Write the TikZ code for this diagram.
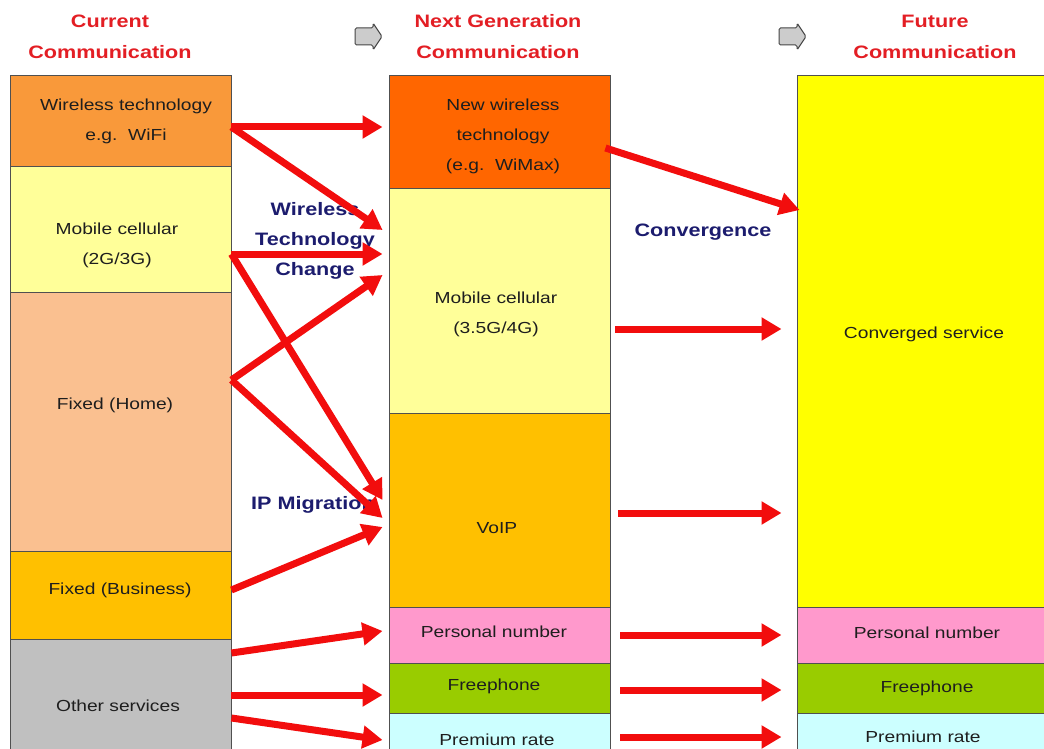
\documentclass[tikz,border=0pt]{standalone}
\usepackage{fontspec}
\setmainfont{Liberation Sans}[FakeStretch=1.2]
\usetikzlibrary{arrows.meta,calc}
\definecolor{cWl}{HTML}{F9993A}
\definecolor{cLy}{HTML}{FFFF99}
\definecolor{cPeach}{HTML}{FAC090}
\definecolor{cGold}{HTML}{FFC000}
\definecolor{cGray}{HTML}{C0C0C0}
\definecolor{cDor}{HTML}{FF6600}
\definecolor{cPink}{HTML}{FF99CC}
\definecolor{cGreen}{HTML}{99CC00}
\definecolor{cCyan}{HTML}{CCFFFF}
\definecolor{cYel}{HTML}{FFFF00}
\definecolor{boxline}{HTML}{505050}
\definecolor{textc}{HTML}{1E1E1E}
\definecolor{hdred}{HTML}{E31E24}
\definecolor{navy}{HTML}{1C1C6E}
\definecolor{arrred}{HTML}{F20D0D}
\begin{document}
\begin{tikzpicture}[x=1pt,y=-1pt,
 box/.style={draw=boxline, line width=0.9pt, inner sep=0pt, minimum width=221pt},
 txt/.style={font=\fontsize{16}{30}\selectfont, text=textc, align=center, inner sep=0pt},
 head/.style={font=\bfseries\fontsize{18}{31}\selectfont, text=hdred, align=center, inner sep=0pt},
 lab/.style={font=\bfseries\fontsize{18}{30}\selectfont, text=navy, align=center, inner sep=0pt},
 flow/.style={draw=arrred, line width=7pt, -{Triangle[length=20pt,width=22pt]}},
 hdarrow/.style={draw=gray!55!black, fill=gray!40, line width=1pt, rounded corners=1.5pt},
]
\useasboundingbox (0,0) rectangle (1044,749);
\clip (0,0) rectangle (1044,749);
\fill[white] (0,0) rectangle (1044,749);

% headers
\node[head] (h1) at (110,36.5) {Current\\Communication};
\node[head] (h2) at (498,36.5) {Next Generation\\Communication};
\node[head] (h3) at (935,36.5) {Future\\Communication};
\draw[hdarrow] (355,28) -- (373,28) -- (373,23) -- (382,36.5) -- (373,50) -- (373,45) -- (355,45) -- cycle;
\draw[hdarrow] (779,28) -- (797,28) -- (797,23) -- (806,36.5) -- (797,50) -- (797,45) -- (779,45) -- cycle;

% left column
\node[box, fill=cWl, minimum height=91pt] (wl) at (120.5,120.5) {};
\node[box, fill=cLy, minimum height=126pt] (mc) at (120.5,229) {};
\node[box, fill=cPeach, minimum height=259pt] (fh) at (120.5,421.5) {};
\node[box, fill=cGold, minimum height=88pt] (fb) at (120.5,595) {};
\node[box, fill=cGray, minimum height=126pt] (os) at (120.5,702) {};

% middle column
\node[box, fill=cDor, minimum height=113pt] (nw) at (499.5,131.5) {};
\node[box, fill=cLy, minimum height=225pt] (m4) at (499.5,300.5) {};
\node[box, fill=cGold, minimum height=194pt] (voip) at (499.5,510) {};
\node[box, fill=cPink, minimum height=56pt] (pn) at (499.5,635) {};
\node[box, fill=cGreen, minimum height=50pt] (fp) at (499.5,688) {};
\node[box, fill=cCyan, minimum height=52pt] (pr) at (499.5,739) {};

% right column
\node[box, fill=cYel, minimum width=254pt, minimum height=532pt] (cs) at (924,341) {};
\node[box, fill=cPink, minimum width=254pt, minimum height=56pt] (pn2) at (924,635) {};
\node[box, fill=cGreen, minimum width=254pt, minimum height=50pt] (fp2) at (924,688) {};
\node[box, fill=cCyan, minimum width=254pt, minimum height=52pt] (pr2) at (924,739) {};

% texts
\node[txt] (twl) at (126,121) {Wireless technology\\e.g.\ \ WiFi};
\node[txt] (tmc) at (117,245.5) {Mobile cellular\\(2G/3G)};
\node[txt] (tfh) at (115,405) {Fixed (Home)};
\node[txt] (tfb) at (120,590) {Fixed (Business)};
\node[txt] (tos) at (118,706) {Other services};
\node[txt] (tnw) at (503,136.5) {New wireless\\technology\\(e.g.\ \ WiMax)};
\node[txt] (tm4) at (496,314) {Mobile cellular\\(3.5G/4G)};
\node[txt] (tvoip) at (497,528) {VoIP};
\node[txt] (tpn) at (494,632) {Personal number};
\node[txt] (tfp) at (494,686) {Freephone};
\node[txt] (tpr) at (497,740) {Premium rate};
\node[txt] (tcs) at (924,334) {Converged service};
\node[txt] (tpn2) at (927,633) {Personal number};
\node[txt] (tfp2) at (927,688) {Freephone};
\node[txt] (tpr2) at (923,737) {Premium rate};

% labels
\node[lab] (lwt) at (315,241) {Wireless\\Technology\\Change};
\node[lab] (lip) at (313,505) {IP Migration};
\node[lab] (lcv) at (703,232) {Convergence};

% arrows left -> middle
\draw[flow] ($(wl.east)+(0,6.5)$) -- ($(nw.west)+(-6,-4.5)$);
\draw[flow] ($(wl.east)+(0,6.5)$) -- ($(m4.west)+(-6,-70.5)$);
\draw[flow] ($(mc.east)+(0,25)$) -- ($(m4.west)+(-6,-46.5)$);
\draw[flow] ($(mc.east)+(0,25)$) -- ($(voip.west)+(-6,-10)$);
\draw[flow] ($(fh.east)+(0,-41.5)$) -- ($(m4.west)+(-6,-25.5)$);
\draw[flow] ($(fh.east)+(0,-41.5)$) -- ($(voip.west)+(-6,8)$);
\draw[flow] ($(fb.east)+(0,-5)$) -- ($(voip.west)+(-6,17)$);
\draw[flow] ($(os.east)+(0,-49)$) -- ($(pn.west)+(-6,-4)$);
\draw[flow] ($(os.east)+(0,-7)$) -- ($(fp.west)+(-6,7)$);
\draw[flow] ($(os.east)+(0,16)$) -- ($(pr.west)+(-6,1)$);

% arrows middle -> right
\draw[flow] ($(nw.east)+(-5,16.5)$) -- ($(cs.west)+(3,-131)$);
\draw[flow] ($(m4.east)+(5,28.5)$) -- ($(cs.west)+(-15,-12)$);
\draw[flow] ($(voip.east)+(8,3)$) -- ($(cs.west)+(-15,172)$);
\draw[flow] ($(pn.east)+(10,0)$) -- ($(pn2.west)+(-15,0)$);
\draw[flow] ($(fp.east)+(10,2)$) -- ($(fp2.west)+(-15,2)$);
\draw[flow] ($(pr.east)+(10,-2)$) -- ($(pr2.west)+(-15,-2)$);
\end{tikzpicture}
\end{document}
